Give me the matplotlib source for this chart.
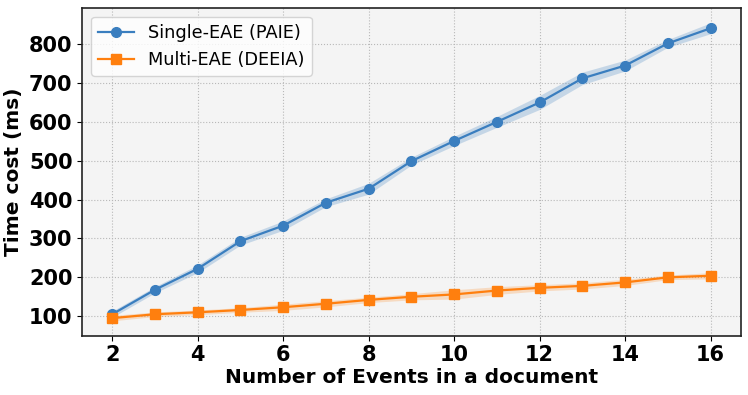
import matplotlib
matplotlib.use("Agg")
import matplotlib.pyplot as plt
import numpy as np

events = [2, 3, 4, 5, 6, 7, 8, 9, 10, 11, 12, 13, 14, 15, 16]
single_paie = [105, 168, 222, 293, 333, 392, 428, 499, 551, 600, 650, 712, 745, 802, 841]
single_err = [8, 8, 10, 10, 12, 10, 14, 10, 12, 14, 18, 16, 14, 10, 14]
multi_deeia = [95, 105, 110, 116, 123, 132, 142, 150, 156, 166, 173, 178, 187, 200, 204]
multi_err = [7, 6, 6, 6, 8, 8, 7, 8, 12, 10, 8, 8, 8, 6, 8]

blue = "#3a7ebf"
orange = "#ff7f0e"

fig, ax = plt.subplots(figsize=(7.48, 3.95), dpi=100)
ax.set_facecolor("#f4f4f4")

s = np.array(single_paie)
se = np.array(single_err)
m = np.array(multi_deeia)
me = np.array(multi_err)

ax.plot(events, single_paie, color=blue, marker="o", markersize=7, linewidth=1.6, label="Single-EAE (PAIE)")
ax.fill_between(events, s - se, s + se, color=blue, alpha=0.25, linewidth=0)
ax.plot(events, multi_deeia, color=orange, marker="s", markersize=7, linewidth=1.6, label="Multi-EAE (DEEIA)")
ax.fill_between(events, m - me, m + me, color=orange, alpha=0.22, linewidth=0)

ax.grid(True, linestyle=":", color="#b8b8b8", linewidth=0.8)
ax.set_axisbelow(True)
ax.set_xticks([2, 4, 6, 8, 10, 12, 14, 16])
ax.set_yticks([100, 200, 300, 400, 500, 600, 700, 800])
ax.tick_params(labelsize=15)
for lbl in ax.get_xticklabels() + ax.get_yticklabels():
    lbl.set_fontweight("bold")
for sp in ax.spines.values():
    sp.set_color("#222222")
    sp.set_linewidth(1.2)

ax.set_xlabel("Number of Events in a document", fontsize=14.5, fontweight="bold", labelpad=2)
ax.set_ylabel("Time cost (ms)", fontsize=14.5, fontweight="bold")
ax.legend(loc="upper left", fontsize=12.8)

fig.subplots_adjust(left=0.11, right=0.99, top=0.98, bottom=0.15)
fig.savefig("out.png", dpi=100)
